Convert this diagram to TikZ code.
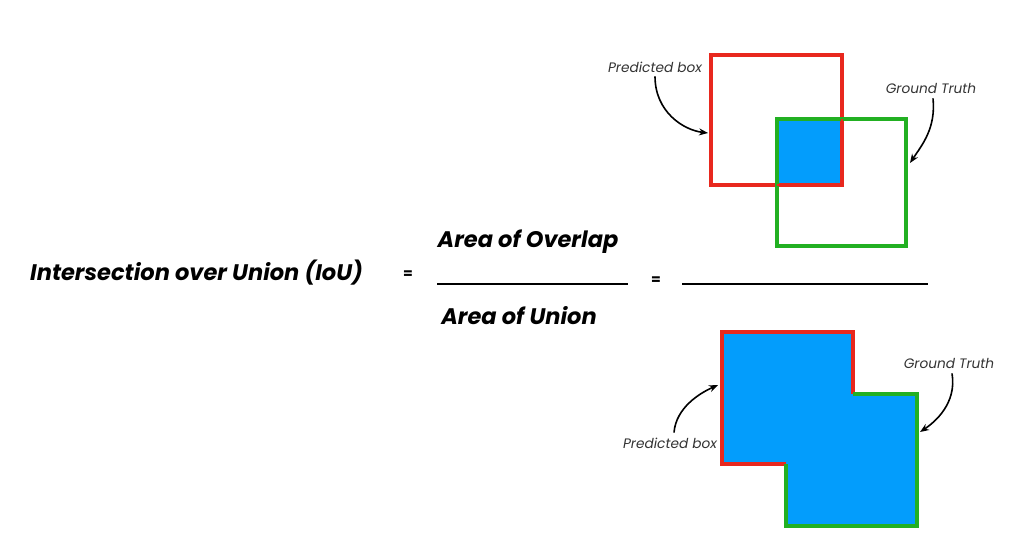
\documentclass[tikz,border=0pt]{standalone}
\usepackage{fontspec}
\setmainfont{Poppins}
\usetikzlibrary{arrows.meta}
\definecolor{predred}{HTML}{E8281E}
\definecolor{gtgreen}{HTML}{22B022}
\definecolor{ovblue}{HTML}{039DFC}
\definecolor{labgray}{HTML}{333333}
\tikzset{
  main/.style={font=\fontsize{22.5}{26}\selectfont\bfseries\itshape, text=black, inner sep=0pt},
  lab/.style={font=\fontsize{13.7}{16}\selectfont\itshape, text=labgray, inner sep=0pt},
  eqs/.style={font=\fontsize{14}{16}\selectfont\bfseries, inner sep=0pt},
  fracline/.style={line width=1.3pt},
  redbox/.style={draw=predred, line width=4.5pt},
  greenbox/.style={draw=gtgreen, line width=4.5pt},
  pointer/.style={line width=1.6pt, -{Stealth[length=9pt,width=7pt]}},
}
\begin{document}
\begin{tikzpicture}[x=1pt,y=-1pt]
\useasboundingbox (0,0) rectangle (1024,550);
% texts
\node[main, anchor=west] (iou) at (30,273) {Intersection over Union (IoU)};
\node[eqs] (eq1) at (408,275) {=};
\node[main] (ov) at (528,242) {Area of Overlap};
\node[main] (un) at (519,316) {Area of Union};
\coordinate (f1a) at (437,284);
\coordinate (f1b) at (628,284);
\draw[fracline] (f1a) -- (f1b);
\node[eqs] (eq2) at (656,281) {=};
\coordinate (f2a) at (682,284);
\coordinate (f2b) at (928,284);
\draw[fracline] (f2a) -- (f2b);
% top boxes
\fill[ovblue] (777,119) rectangle (840,183);
\draw[redbox] (711,55) rectangle (842,185);
\draw[greenbox] (777,119) rectangle (906,246);
\draw[predred, line width=2pt] (777,185) -- (842,185) -- (842,119);
\node[lab] (pb1) at (655,67) {Predicted box};
\node[lab] (gt1) at (931,88) {Ground Truth};
\coordinate (pb1t) at (708,133);
\coordinate (gt1t) at (910,163);
\draw[pointer] (pb1.south) ++(0,4) .. controls +(0,35) and +(-25,-3) .. (pb1t);
\draw[pointer] (gt1.south) ++(2,5) .. controls +(3,30) and +(12,-18) .. (gt1t);
% union shape
\fill[ovblue] (722,332) -- (853,332) -- (853,394) -- (917,394) -- (917,526) -- (786,526) -- (786,464) -- (722,464) -- cycle;
\draw[draw=predred, line width=4pt] (786,464) -- (722,464) -- (722,332) -- (853,332) -- (853,394);
\draw[draw=gtgreen, line width=4pt] (853,394) -- (917,394) -- (917,526) -- (786,526) -- (786,464);
\node[lab] (pb2) at (670,443) {Predicted box};
\node[lab] (gt2) at (949,363) {Ground Truth};
\coordinate (pb2t) at (718,385);
\coordinate (gt2t) at (920,432);
\draw[pointer] (pb2.north) ++(4,-5) .. controls +(2,-25) and +(-18,8) .. (pb2t);
\draw[pointer] (gt2.south) ++(3,5) .. controls +(5,30) and +(15,-10) .. (gt2t);
\end{tikzpicture}
\end{document}
